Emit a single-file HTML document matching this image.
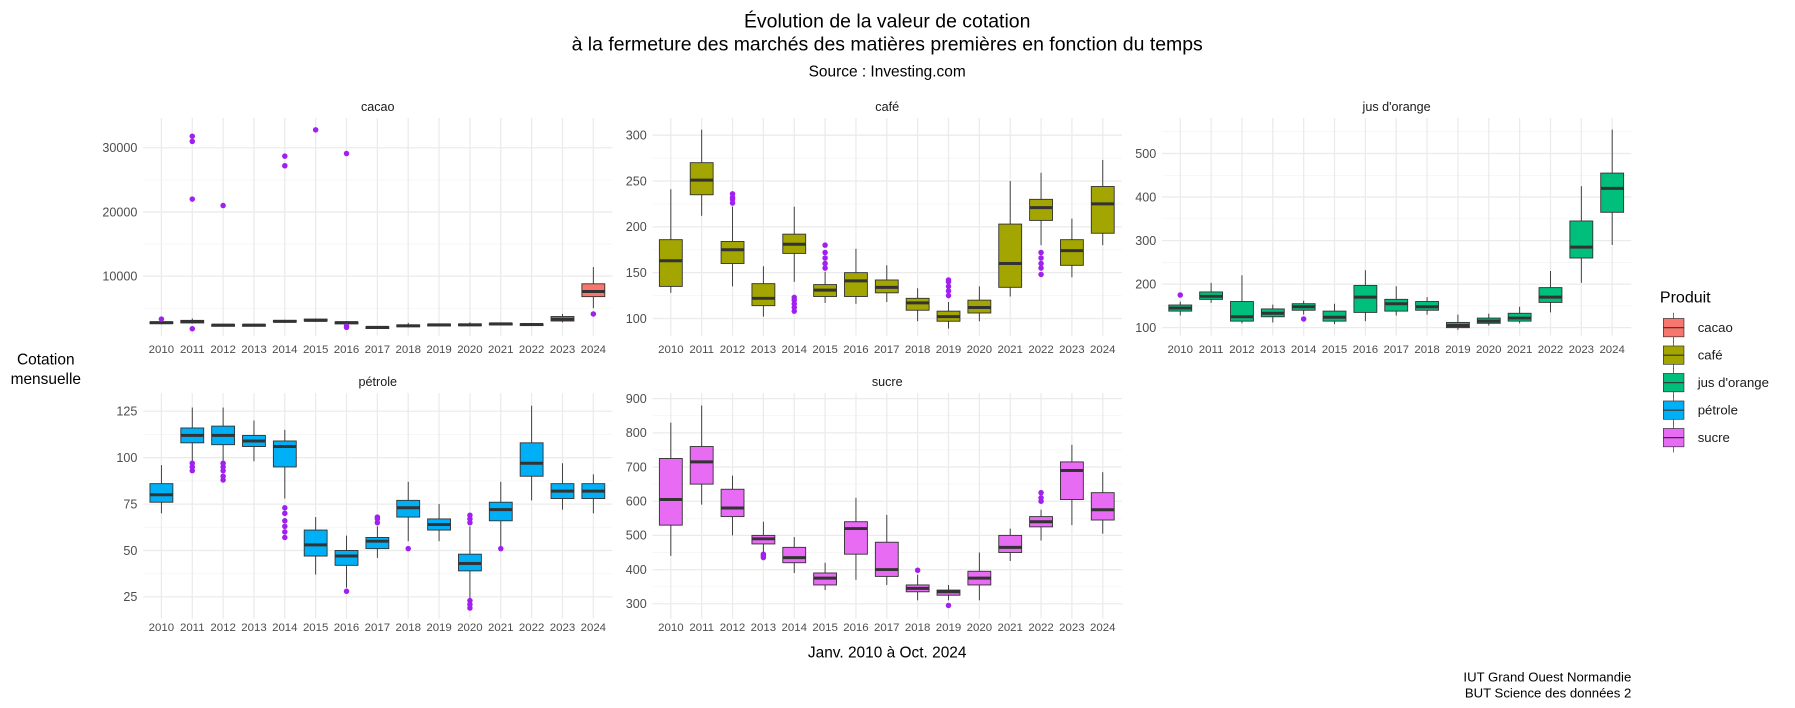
<!DOCTYPE html>
<html><head><meta charset="utf-8"><style>
html,body{margin:0;padding:0;background:#fff}
svg{display:block}
text{font-family:"Liberation Sans",Arial,sans-serif}
</style></head><body>
<svg id="s" width="1795" height="708" viewBox="0 0 1568 618" preserveAspectRatio="none" xmlns="http://www.w3.org/2000/svg">
<rect width="1568" height="618" fill="#fff"/>
<g id="g"></g>
<text x="775" y="24" font-size="17" text-anchor="middle" fill="#000">Évolution de la valeur de cotation</text>
<text x="775" y="44" font-size="17" text-anchor="middle" fill="#000">à la fermeture des marchés des matières premières en fonction du temps</text>
<text x="775" y="67" font-size="13.5" text-anchor="middle" fill="#000">Source : Investing.com</text>
<text x="330" y="97" font-size="11" text-anchor="middle" fill="#1a1a1a">cacao</text>
<text x="775" y="97" font-size="11" text-anchor="middle" fill="#1a1a1a">café</text>
<text x="1220" y="97" font-size="11" text-anchor="middle" fill="#1a1a1a">jus d'orange</text>
<text x="330" y="337" font-size="11" text-anchor="middle" fill="#1a1a1a">pétrole</text>
<text x="775" y="337" font-size="11" text-anchor="middle" fill="#1a1a1a">sucre</text>
<text x="40" y="318" font-size="13.5" text-anchor="middle" fill="#000">Cotation</text>
<text x="40" y="335" font-size="13.5" text-anchor="middle" fill="#000">mensuelle</text>
<text x="775" y="574" font-size="13.5" text-anchor="middle" fill="#000">Janv. 2010 à Oct. 2024</text>
<text x="1425" y="595" font-size="11.5" text-anchor="end" fill="#000">IUT Grand Ouest Normandie</text>
<text x="1425" y="609" font-size="11.5" text-anchor="end" fill="#000">BUT Science des données 2</text>
<text x="1450" y="264" font-size="14" fill="#000">Produit</text>
<text x="1483" y="290" font-size="11.5" fill="#1a1a1a">cacao</text>
<text x="1483" y="314" font-size="11.5" fill="#1a1a1a">café</text>
<text x="1483" y="338" font-size="11.5" fill="#1a1a1a">jus d'orange</text>
<text x="1483" y="362" font-size="11.5" fill="#1a1a1a">pétrole</text>
<text x="1483" y="386" font-size="11.5" fill="#1a1a1a">sucre</text>
</svg>
<script>
var NS="http://www.w3.org/2000/svg",G=document.getElementById("g");
function el(t,a){var e=document.createElementNS(NS,t);for(var k in a)e.setAttribute(k,a[k]);G.appendChild(e);return e;}
function txt(x,y,s,anc,fs,col){var e=el("text",{x:x,y:y,"font-size":fs||10.5,"text-anchor":anc||"middle",fill:col||"#4D4D4D"});e.textContent=s;}
var P=[
{c:"#F8766D",x0:125,x1:535,y0:103,y1:293,x2010:141,v1:30000,p1:129,v2:10000,p2:241,ticks:[10000,20000,30000],minor:[5000,15000,25000],yl:308,
d:[[2500,2650,2750,2850,3000,[3300]],[2600,2700,2900,3100,3400,[31800,31000,22000,1800]],[2200,2250,2350,2450,2550,[21000]],[2200,2250,2350,2450,2600,[]],[2700,2850,2950,3100,3200,[28700,27200]],[2900,3000,3100,3300,3400,[32800]],[2400,2550,2750,2850,3000,[2000,2200,29100]],[1800,1900,2000,2100,2200,[]],[2000,2100,2250,2400,2700,[]],[2200,2250,2400,2500,2600,[]],[2200,2300,2400,2550,2800,[]],[2400,2450,2550,2650,2700,[]],[2300,2350,2450,2550,2700,[]],[2800,3000,3300,3700,4100,[]],[5000,6800,7600,8800,11400,[4100]]]},
{c:"#A3A500",x0:570,x1:980,y0:103,y1:293,x2010:586,v1:300,p1:118,v2:100,p2:278,ticks:[100,150,200,250,300],minor:[125,175,225,275],yl:308,
d:[[128,135,163,186,241,[]],[212,235,251,270,306,[]],[135,160,175,184,222,[226,230,236,232]],[102,114,122,138,157,[]],[140,171,181,192,222,[108,112,116,120,123]],[117,124,131,137,151,[155,160,166,172,180]],[116,124,141,150,176,[]],[118,128,134,142,158,[]],[97,109,117,122,133,[]],[89,97,102,108,118,[125,130,135,140,142]],[97,106,112,120,135,[]],[124,134,160,203,250,[]],[180,207,221,230,259,[148,155,160,166,172]],[145,158,174,186,209,[]],[180,193,225,244,273,[]]]},
{c:"#00BF7D",x0:1015,x1:1425,y0:103,y1:293,x2010:1031,v1:500,p1:134,v2:100,p2:286,ticks:[100,200,300,400,500],minor:[150,250,350,450,550],yl:308,
d:[[128,138,145,152,160,[175]],[157,165,172,182,203,[]],[110,115,125,160,220,[]],[112,125,133,143,153,[]],[130,140,148,155,162,[120]],[108,115,124,138,155,[]],[115,135,170,197,232,[]],[128,138,155,165,195,[]],[130,140,148,160,170,[]],[95,100,105,112,130,[]],[105,110,115,122,132,[]],[110,115,122,133,148,[]],[135,158,170,192,230,[]],[203,260,285,345,425,[]],[290,365,420,455,555,[]]]},
{c:"#00B0F6",x0:125,x1:535,y0:343,y1:540,x2010:141,v1:125,p1:359,v2:25,p2:521,ticks:[25,50,75,100,125],minor:[37.5,62.5,87.5,112.5],yl:551,
d:[[70,76,80,86,96,[]],[98,108,112,116,127,[93,95,97]],[98,107,112,117,127,[88,90,93,95,97]],[98,106,109,112,120,[]],[78,95,106,109,115,[57,60,63,66,70,73]],[37,47,53,61,68,[]],[30,42,47,50,58,[28]],[46,51,55,57,63,[65,67,68]],[55,68,73,77,87,[51]],[55,61,64,67,75,[]],[24,39,43,48,63,[19,21,23,65,67,69]],[52,66,72,76,87,[51]],[77,90,97,108,128,[]],[72,78,82,86,97,[]],[70,78,82,86,91,[]]]},
{c:"#E76BF3",x0:570,x1:980,y0:343,y1:540,x2010:586,v1:900,p1:348,v2:300,p2:527,ticks:[300,400,500,600,700,800,900],minor:[350,450,550,650,750,850],yl:551,
d:[[440,530,605,725,830,[]],[590,650,715,760,880,[]],[500,555,580,635,675,[]],[450,475,490,500,540,[435,440,445]],[390,420,435,465,495,[]],[340,355,375,390,420,[]],[370,445,520,540,610,[]],[355,380,400,480,560,[]],[310,335,345,355,385,[398]],[310,325,335,340,355,[295]],[310,355,375,395,450,[]],[425,450,465,500,520,[]],[485,525,540,555,575,[600,610,625]],[530,605,690,715,765,[]],[505,545,575,625,685,[]]]}
];
P.forEach(function(p){
 var k=(p.p2-p.p1)/(p.v2-p.v1);function Y(v){return p.p1+(v-p.v1)*k;}
 var step=26.95;
 p.minor.forEach(function(v){var y=Y(v);if(y>p.y0&&y<p.y1)el("line",{x1:p.x0,x2:p.x1,y1:y,y2:y,stroke:"#F3F3F3","stroke-width":0.6});});
 p.ticks.forEach(function(v){var y=Y(v);el("line",{x1:p.x0,x2:p.x1,y1:y,y2:y,stroke:"#EBEBEB","stroke-width":1.1});txt(p.x0-5,y+3.8,String(v),"end",11);});
 for(var i=0;i<15;i++){var x=p.x2010+i*step;el("line",{x1:x,x2:x,y1:p.y0,y2:p.y1,stroke:"#EBEBEB","stroke-width":1.1});txt(x,p.yl,String(2010+i),"middle",10);}
 p.d.forEach(function(b,i){var x=p.x2010+i*step,w=10;
  el("line",{x1:x,x2:x,y1:Y(b[4]),y2:Y(b[0]),stroke:"#333","stroke-width":0.8});
  var yt=Y(b[3]),yb=Y(b[1]);el("rect",{x:x-w,y:yt,width:2*w,height:Math.max(yb-yt,1.5),fill:p.c,stroke:"#333","stroke-width":0.8});
  el("line",{x1:x-w,x2:x+w,y1:Y(b[2]),y2:Y(b[2]),stroke:"#333","stroke-width":2.6});
  b[5].forEach(function(o){el("circle",{cx:x,cy:Y(o),r:2.4,fill:"#A020F0"});});
 });
});
var cols=["#F8766D","#A3A500","#00BF7D","#00B0F6","#E76BF3"];
cols.forEach(function(c,i){var y=286+i*24;
 el("line",{x1:1462,x2:1462,y1:y-13,y2:y+13,stroke:"#333","stroke-width":0.6});
 el("rect",{x:1453,y:y-8,width:18,height:16,fill:c,stroke:"#333","stroke-width":0.6});
 el("line",{x1:1453,x2:1471,y1:y,y2:y,stroke:"#333","stroke-width":1});});
</script>
</body></html>
